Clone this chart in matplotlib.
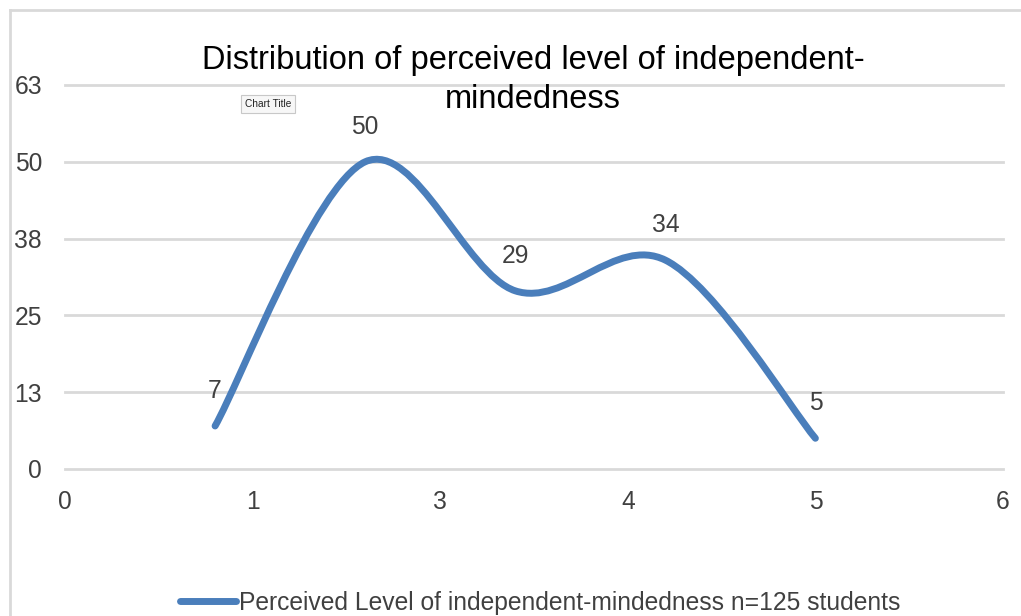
"""
Smoothed distribution chart of perceived independent-mindedness (n=125).
Excel-style scatter with smoothed line, rebuilt in matplotlib.
"""

import matplotlib
matplotlib.use("Agg")
import matplotlib.pyplot as plt
import numpy as np
from matplotlib.lines import Line2D
from matplotlib.patches import PathPatch
from matplotlib.path import Path

plt.rcParams["font.family"] = ["Liberation Sans", "DejaVu Sans"]

# data
levels = [1, 2, 3, 4, 5]
counts = [7, 50, 29, 34, 5]
x_ticks = [0, 1.25, 2.5, 3.75, 5, 6.25]
x_ticklabels = ["0", "1", "3", "4", "5", "6"]
y_ticks = [0, 12.5, 25, 37.5, 50, 62.5]
y_ticklabels = ["0", "13", "25", "38", "50", "63"]

TITLE_LINES = ["Distribution of perceived level of independent-", "mindedness"]
SERIES = "Perceived Level of independent-mindedness n=125 students"

BLUE, GRID, TXT = "#4a7ebb", "#d9d9d9", "#404040"
FS = 17.7


def smooth_path(xs, ys) -> Path:
    """Bezier path through the points, same tension Excel uses for smoothed lines."""
    pts = np.column_stack([xs, ys]).astype(float)
    padded = np.vstack([pts[0], pts, pts[-1]])
    verts, codes = [pts[0]], [Path.MOVETO]
    for i in range(1, len(pts)):
        p0, p1, p2, p3 = padded[i - 1], padded[i], padded[i + 1], padded[i + 2]
        verts += [p1 + (p2 - p0) / 6, p2 - (p3 - p1) / 6, p2]
        codes += [Path.CURVE4] * 3
    return Path(verts, codes)


fig = plt.figure(figsize=(10.21, 6.16), dpi=100)
ax = fig.add_axes([65 / 1021, 147 / 616, 938 / 1021, 384 / 616])

ax.set_xlim(0, 6.25)
ax.set_ylim(0, 62.5)
ax.set_yticks(y_ticks, y_ticklabels)
ax.set_xticks(x_ticks, x_ticklabels)
ax.tick_params(length=0, labelsize=FS, colors=TXT)
ax.tick_params(axis="y", pad=16.5)
ax.tick_params(axis="x", pad=15)
for s in ax.spines.values():
    s.set_visible(False)
for yv in y_ticks:
    ax.axhline(yv, color=GRID, lw=2, zorder=1, clip_on=False)

ax.add_patch(PathPatch(smooth_path(levels, counts), fill=False, edgecolor=BLUE,
                       lw=5, capstyle="round", joinstyle="round", zorder=3))

for xv, yv in zip(levels, counts):
    ax.annotate(str(yv), (xv, yv), xytext=(0, 35), textcoords="offset pixels",
                ha="center", va="center", fontsize=FS, color=TXT)

for ypx, line in zip([61, 99], TITLE_LINES):
    fig.text(533 / 1021, 1 - ypx / 616, line, ha="center", va="center",
             fontsize=23.5, color="black")

# the little "Chart Title" hover tip left over from the screenshot
fig.text(268 / 1021, 1 - 104 / 616, "Chart Title", ha="center", va="center",
         fontsize=7.3, color="#222222",
         bbox=dict(boxstyle="square,pad=0.4", fc="#f7f7f7", ec="#c8c8c8", lw=0.8))

handle = Line2D([], [], color=BLUE, lw=5, solid_capstyle="round")
fig.legend([handle], [SERIES], loc="center", bbox_to_anchor=(540 / 1021, 1 - 603 / 616),
           frameon=False, fontsize=FS, labelcolor=TXT, handlelength=2.3,
           handletextpad=0.1, borderaxespad=0)

# outer chart border (only left and top visible in the crop)
fig.add_artist(Line2D([10 / 1021, 10 / 1021], [0, 1 - 10 / 616], color=GRID, lw=2))
fig.add_artist(Line2D([10 / 1021, 1], [1 - 10 / 616, 1 - 10 / 616], color=GRID, lw=2))

fig.savefig("out.png", dpi=100)
